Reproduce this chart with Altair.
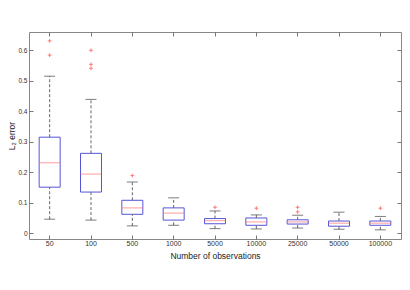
import altair as alt
import pandas as pd

ns = ["50", "100", "500", "1000", "5000", "10000", "25000", "50000", "100000"]
q1 = [0.151, 0.135, 0.062, 0.043, 0.031, 0.026, 0.030, 0.023, 0.026]
med = [0.231, 0.194, 0.083, 0.066, 0.041, 0.037, 0.037, 0.033, 0.033]
q3 = [0.315, 0.262, 0.108, 0.083, 0.048, 0.050, 0.044, 0.040, 0.040]
wlo = [0.046, 0.043, 0.024, 0.026, 0.015, 0.014, 0.017, 0.013, 0.011]
whi = [0.515, 0.439, 0.168, 0.116, 0.073, 0.060, 0.059, 0.069, 0.055]

out_n = ["50", "50", "100", "100", "100", "500", "5000", "10000", "25000", "25000", "100000"]
out_v = [0.631, 0.584, 0.600, 0.554, 0.541, 0.189, 0.085, 0.082, 0.085, 0.070, 0.082]

yticks = [0, 0.1, 0.2, 0.3, 0.4, 0.5, 0.6]

box = pd.DataFrame({"n": ns, "q1": q1, "med": med, "q3": q3, "wlo": wlo, "whi": whi})
outs = pd.DataFrame({"n": out_n, "v": out_v})

FONT = "Liberation Sans"
xscale = alt.Scale(domain=ns, paddingInner=0, paddingOuter=0)
yscale = alt.Scale(domain=[-0.019, 0.66], nice=False, zero=False)

x_main = alt.X("n:N", sort=ns, scale=xscale,
               axis=alt.Axis(title="Number of observations", labelAngle=0, domain=False,
                             grid=False, offset=-4, tickSize=4, labelPadding=0,
                             titlePadding=5, tickColor="#777", labelFontSize=7,
                             titleFontSize=8.5, labelFont=FONT, titleFont=FONT,
                             labelColor="#333", titleColor="#222",
                             titleFontWeight="normal"))
y_main = alt.Y("q1:Q", scale=yscale,
               axis=alt.Axis(title="L₂ error", values=yticks, format=".1~f", domain=False,
                             grid=False, offset=-4, tickSize=4, labelPadding=2,
                             titlePadding=1, tickColor="#777", labelFontSize=6.5,
                             titleFontSize=8.5, labelFont=FONT, titleFont=FONT,
                             labelColor="#333", titleColor="#222",
                             titleFontWeight="normal"))

base = alt.Chart(box)
x_noax = alt.X("n:N", sort=ns, scale=xscale, axis=None)

whisk_up = base.mark_rule(color="#666", strokeDash=[3, 2], strokeWidth=1).encode(
    x=x_noax, y=alt.Y("q3:Q", scale=yscale, axis=None), y2="whi:Q")
whisk_dn = base.mark_rule(color="#666", strokeDash=[3, 2], strokeWidth=1).encode(
    x=x_noax, y=alt.Y("wlo:Q", scale=yscale, axis=None), y2="q1:Q")
cap_hi = base.mark_tick(color="#444", orient="horizontal", size=11, thickness=1).encode(
    x=x_noax, y=alt.Y("whi:Q", scale=yscale, axis=None))
cap_lo = base.mark_tick(color="#444", orient="horizontal", size=11, thickness=1).encode(
    x=x_noax, y=alt.Y("wlo:Q", scale=yscale, axis=None))
boxes = base.mark_bar(fill="white", stroke="#5555d8", strokeWidth=1, size=21).encode(
    x=x_main, y=y_main, y2="q3:Q")
medians = base.mark_tick(color="#ff7070", orient="horizontal", size=21, thickness=1).encode(
    x=x_noax, y=alt.Y("med:Q", scale=yscale, axis=None))
outliers = alt.Chart(outs).mark_point(
    shape="M-1,0L1,0M0,-1L0,1", size=14, color="#ff4040", filled=False, strokeWidth=1
).encode(x=x_noax, y=alt.Y("v:Q", scale=yscale, axis=None))

frame_axes = base.mark_point(opacity=0).encode(
    x=alt.X("n:N", sort=ns, scale=xscale,
            axis=alt.Axis(orient="top", labels=False, title=None, domain=False, grid=False,
                          offset=-4, tickSize=4, tickColor="#777")),
    y=alt.Y("med:Q", scale=yscale,
            axis=alt.Axis(orient="right", labels=False, title=None, domain=False, grid=False,
                          values=yticks, offset=-4, tickSize=4, tickColor="#777")),
)

chart = alt.layer(
    boxes, whisk_up, whisk_dn, cap_hi, cap_lo, medians, outliers, frame_axes
).resolve_axis(x="independent", y="independent").properties(
    width=372, height=207,
    autosize=alt.AutoSizeParams(type="none"),
    padding={"left": 21, "top": 24, "right": 1, "bottom": 30},
).configure_view(stroke="#888", strokeWidth=1).configure_axis(grid=False)

chart.save("out.html", embed_options={"renderer": "svg", "actions": False})
